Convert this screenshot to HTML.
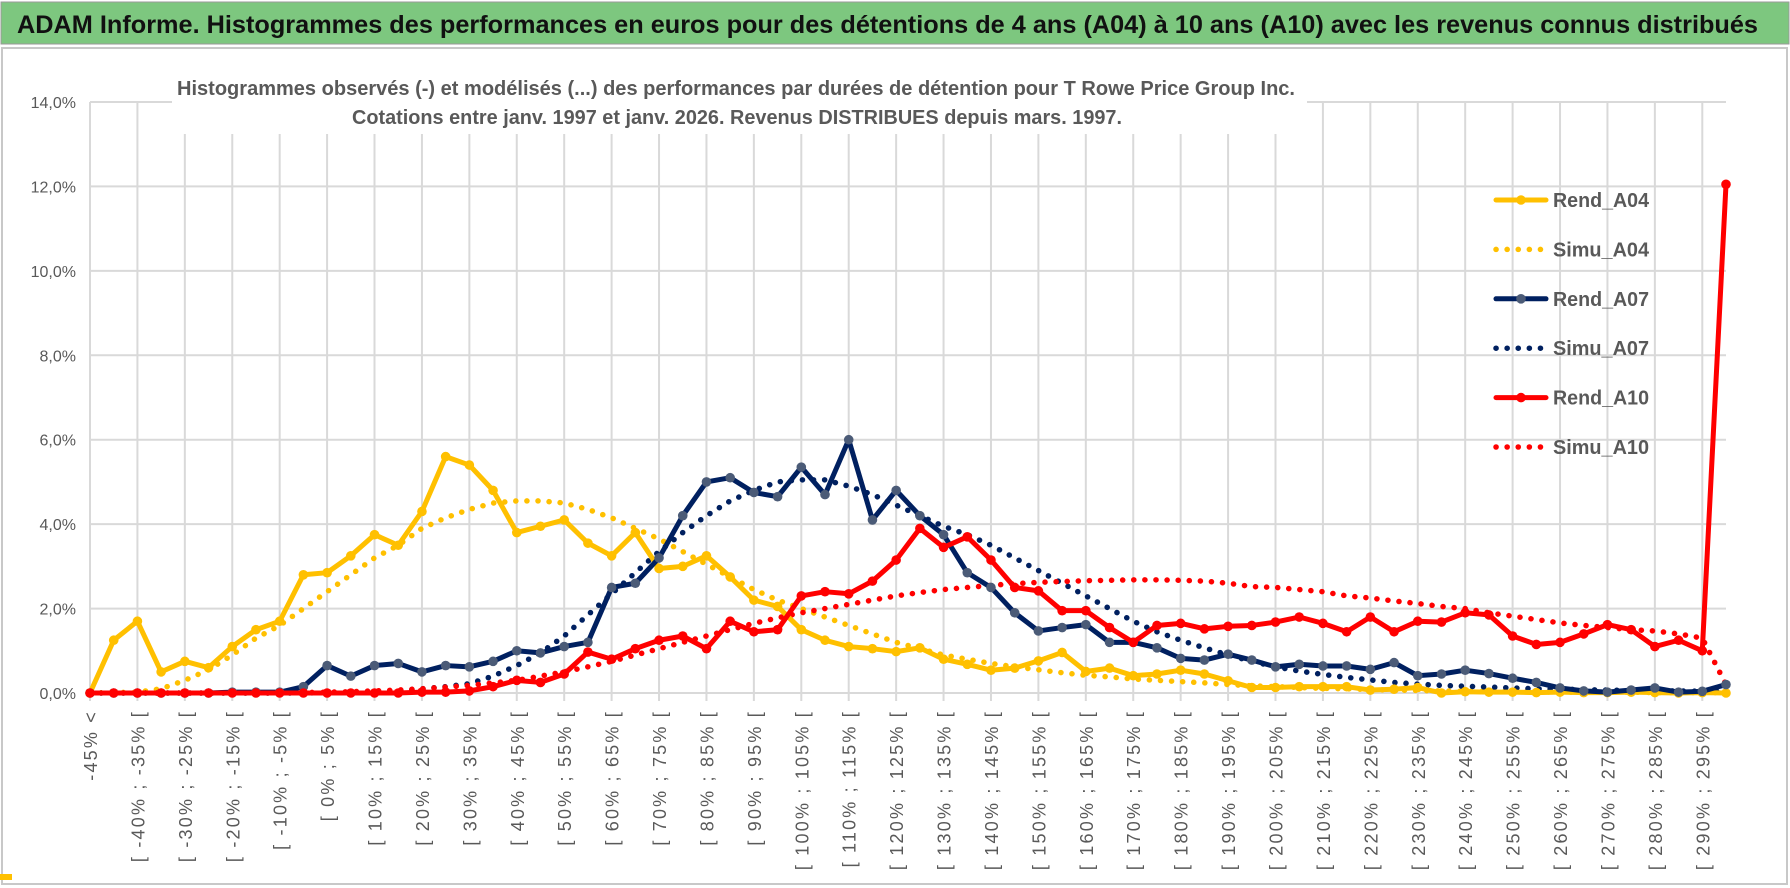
<!DOCTYPE html>
<html><head><meta charset="utf-8"><style>
html,body{margin:0;padding:0;background:#fff;}
svg{display:block;font-family:"Liberation Sans Narrow","Liberation Sans",sans-serif;}
</style></head><body>
<svg id="chart" width="1790" height="888" viewBox="0 0 1790 888" xmlns="http://www.w3.org/2000/svg">
<rect x="0" y="0" width="1790" height="888" fill="#fff"/>
<rect x="1" y="2" width="1788" height="42" fill="#7DC77F" stroke="#9a9a9a" stroke-width="1"/>
<text x="17" y="33" font-size="25" font-weight="bold" fill="#111" textLength="1741" lengthAdjust="spacingAndGlyphs">ADAM Informe. Histogrammes des performances en euros pour des détentions de 4 ans (A04) à 10 ans (A10) avec les revenus connus distribués</text>
<rect x="2" y="48" width="1785" height="836" fill="none" stroke="#c8c8c8" stroke-width="2"/>
<rect x="0" y="874" width="12" height="6" fill="#FFC000"/>
<g id="grid"></g>
<rect x="172" y="70" width="1135" height="64" fill="#fff"/>
<text x="736" y="95" font-size="20" font-weight="bold" fill="#595959" text-anchor="middle" textLength="1118" lengthAdjust="spacingAndGlyphs">Histogrammes observés (-) et modélisés (...) des performances par durées de détention pour T Rowe Price Group Inc.</text>
<text x="737" y="124" font-size="20" font-weight="bold" fill="#595959" text-anchor="middle" textLength="770" lengthAdjust="spacingAndGlyphs">Cotations entre janv. 1997 et janv. 2026. Revenus DISTRIBUES depuis mars. 1997.</text>
<g id="series"></g>
<g id="legend"></g>
</svg>
<script>
const yTicks=[0,2,4,6,8,10,12,14];
const yTickLabels=["0,0%","2,0%","4,0%","6,0%","8,0%","10,0%","12,0%","14,0%"];
const categories=["-45% <"];
for(let a=-45;a<300;a+=5){categories.push("[ "+a+"% ; "+(a+5)+"% [");}
const rendA04=[0,1.25,1.7,0.5,0.75,0.6,1.1,1.5,1.7,2.8,2.85,3.25,3.75,3.5,4.3,5.6,5.4,4.8,3.8,3.95,4.1,3.55,3.25,3.8,2.95,3.0,3.25,2.75,2.2,2.05,1.5,1.25,1.1,1.05,0.98,1.07,0.8,0.68,0.54,0.59,0.76,0.96,0.51,0.59,0.41,0.45,0.54,0.45,0.29,0.13,0.13,0.15,0.15,0.15,0.07,0.09,0.13,0,0.03,0.02,0.02,0.01,0.02,0.01,0.01,0.02,0.01,0,0.01,0];
const simuA04=[0,0.01,0.02,0.1,0.3,0.55,0.9,1.3,1.6,2.0,2.4,2.8,3.2,3.5,3.9,4.15,4.35,4.5,4.55,4.55,4.5,4.35,4.15,3.9,3.65,3.35,3.05,2.75,2.45,2.2,2.0,1.8,1.6,1.4,1.2,1.05,0.9,0.8,0.7,0.62,0.55,0.48,0.42,0.38,0.33,0.3,0.27,0.24,0.2,0.17,0.15,0.13,0.11,0.1,0.08,0.07,0.06,0.05,0.04,0.04,0.03,0.03,0.02,0.02,0.02,0.02,0.01,0.01,0.01,0.01];
const rendA07=[0,0,0,0,0,0,0.02,0.02,0.02,0.15,0.65,0.4,0.65,0.7,0.5,0.65,0.62,0.75,1.0,0.95,1.1,1.2,2.5,2.6,3.2,4.2,5.0,5.1,4.75,4.65,5.35,4.7,6.0,4.1,4.8,4.2,3.75,2.85,2.5,1.9,1.47,1.55,1.62,1.2,1.2,1.07,0.82,0.78,0.92,0.78,0.62,0.68,0.64,0.64,0.56,0.72,0.41,0.45,0.54,0.46,0.35,0.25,0.12,0.05,0.02,0.07,0.12,0.02,0.04,0.2];
const simuA07=[0,0,0,0,0,0,0,0,0,0,0.01,0.02,0.03,0.06,0.1,0.15,0.22,0.4,0.65,0.95,1.35,1.85,2.35,2.85,3.35,3.8,4.2,4.55,4.8,5.0,5.05,5.05,4.9,4.7,4.45,4.2,3.95,3.75,3.5,3.2,2.9,2.6,2.3,2.0,1.7,1.45,1.25,1.07,0.9,0.75,0.62,0.52,0.44,0.37,0.31,0.25,0.21,0.18,0.16,0.14,0.12,0.1,0.09,0.08,0.07,0.06,0.05,0.05,0.04,0.04];
const rendA10=[0,0,0,0,0,0,0,0,0,0,0,0,0,0,0.02,0.02,0.05,0.15,0.3,0.25,0.45,0.97,0.8,1.05,1.25,1.35,1.05,1.7,1.45,1.5,2.3,2.4,2.35,2.65,3.15,3.9,3.45,3.7,3.15,2.5,2.42,1.95,1.95,1.55,1.2,1.6,1.65,1.52,1.58,1.6,1.68,1.8,1.65,1.45,1.8,1.45,1.7,1.68,1.9,1.85,1.35,1.15,1.2,1.4,1.62,1.5,1.1,1.25,1.0,12.05];
const simuA10=[0,0,0,0,0,0,0,0,0,0.01,0.02,0.03,0.05,0.07,0.1,0.14,0.18,0.24,0.3,0.4,0.5,0.62,0.75,0.9,1.05,1.2,1.35,1.5,1.65,1.78,1.9,2.0,2.1,2.2,2.3,2.38,2.45,2.5,2.55,2.59,2.62,2.64,2.66,2.67,2.68,2.68,2.67,2.65,2.6,2.52,2.5,2.45,2.4,2.3,2.25,2.18,2.12,2.05,2.0,1.9,1.82,1.74,1.66,1.6,1.55,1.5,1.47,1.4,1.3,0.2];

const NS="http://www.w3.org/2000/svg";
const X0=90,X1=1726,Y0=693,Y14=102;
const n=categories.length;
function xs(i){return X0+i*(X1-X0)/(n-1);}
function ys(v){return Y0-v*(Y0-Y14)/14;}
function mk(tag,attrs,parent){const e=document.createElementNS(NS,tag);for(const k in attrs)e.setAttribute(k,attrs[k]);parent.appendChild(e);return e;}
const grid=document.getElementById('grid');
yTicks.forEach((t,k)=>{
  const l=mk('line',{x1:X0,x2:X1,y1:ys(t),y2:ys(t),stroke:'#d9d9d9','stroke-width':2},grid);
  
  
  const tx=mk('text',{x:76,y:ys(t)+6,'font-size':16,fill:'#595959','text-anchor':'end'},grid);
  tx.textContent=yTickLabels[k];
  
  
});
for(let i=0;i<n;i+=2){
  const l=mk('line',{x1:xs(i),x2:xs(i),y1:Y14,y2:Y0+8,stroke:'#d9d9d9','stroke-width':2},grid);
  
  
  const tx=mk('text',{x:0,y:0,'font-size':18,fill:'#595959','text-anchor':'end','letter-spacing':'2.2','font-family':'Liberation Sans, sans-serif',transform:'translate('+(xs(i)+7)+',710) rotate(-90)'},grid);
  tx.textContent=categories[i];
  
  
}
const series=document.getElementById('series');
function solid(data,color,mcolor,name){
  const g=mk('g',{},series);
  
  
  const p=mk('polyline',{points:data.map((v,i)=>xs(i)+','+ys(v)).join(' '),fill:'none',stroke:color,'stroke-width':5,'stroke-linejoin':'round'},g);
  
  
  data.forEach((v,i)=>{
    const c=mk('circle',{cx:xs(i),cy:ys(v),r:4.8,fill:mcolor},g);
    
    
  });
}
function dotted(data,color,name){
  const p=mk('polyline',{points:data.map((v,i)=>xs(i)+','+ys(v)).join(' '),fill:'none',stroke:color,'stroke-width':5.5,'stroke-linecap':'round','stroke-dasharray':'0.1 11'},series);
  
  
}
dotted(simuA04,'#FFC000','simu-a04-line');
dotted(simuA07,'#002060','simu-a07-line');
dotted(simuA10,'#FF0000','simu-a10-line');
solid(rendA04,'#FFC000','#FFC000','rend-a04-series');
solid(rendA07,'#002060','#4B5B77','rend-a07-series');
solid(rendA10,'#FF0000','#FF0000','rend-a10-series');

const legendNames=["Rend_A04","Simu_A04","Rend_A07","Simu_A07","Rend_A10","Simu_A10"];
const legendColors=["#FFC000","#FFC000","#002060","#002060","#FF0000","#FF0000"];
const legend=document.getElementById('legend');
legendNames.forEach((nm,k)=>{
  const y=200+k*49.4;
  const g=mk('g',{},legend);
  
  
  if(k%2===0){
    mk('line',{x1:1496,x2:1546,y1:y,y2:y,stroke:legendColors[k],'stroke-width':5,'stroke-linecap':'round'},g);
    mk('circle',{cx:1521,cy:y,r:4.8,fill:k===2?'#4B5B77':legendColors[k]},g);
  }else{
    mk('line',{x1:1496,x2:1546,y1:y,y2:y,stroke:legendColors[k],'stroke-width':5.5,'stroke-linecap':'round','stroke-dasharray':'0.1 11'},g);
  }
  const t=mk('text',{x:1553,y:y+7,'font-size':20,'font-weight':'bold',fill:'#595959',textLength:96,lengthAdjust:'spacingAndGlyphs'},g);
  t.textContent=nm;
});
</script>
</body></html>
